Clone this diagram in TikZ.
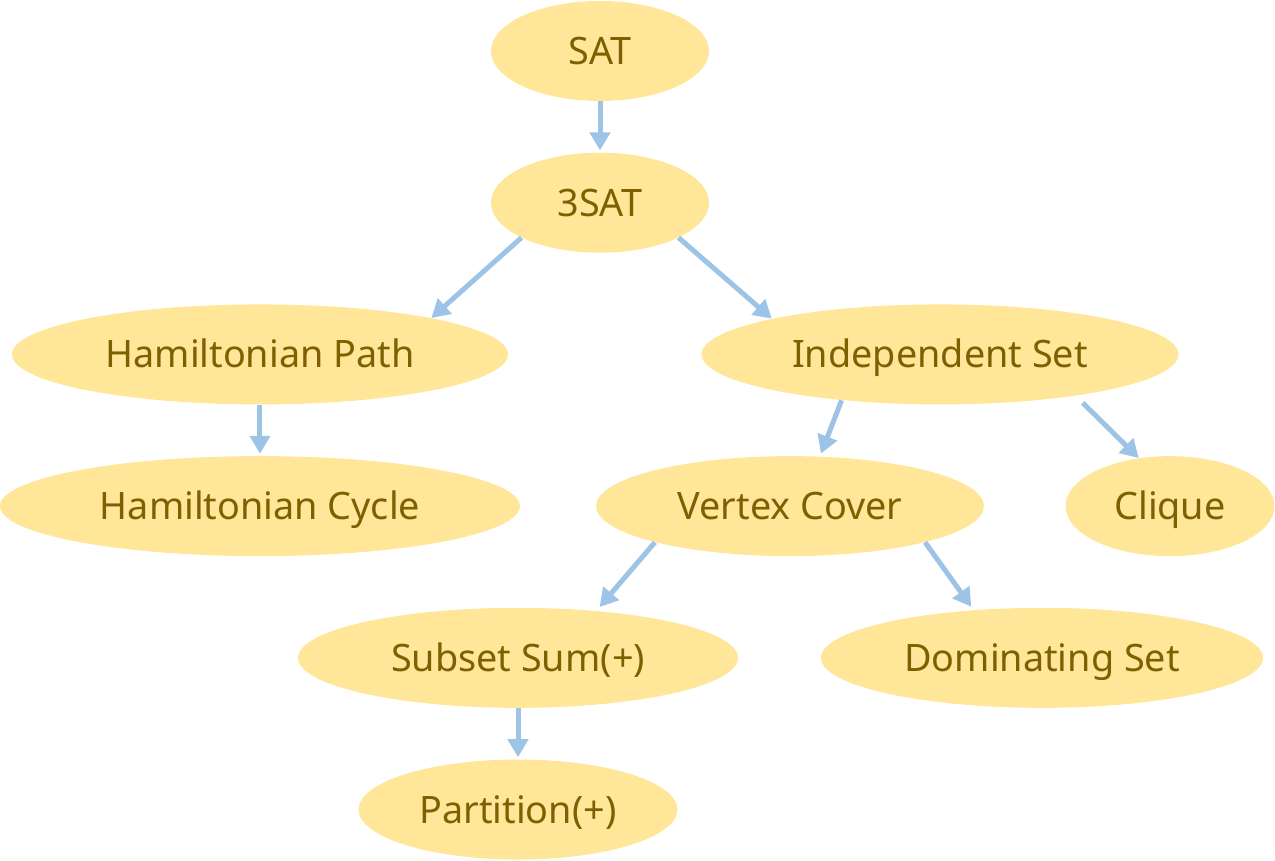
\documentclass[tikz,border=0pt]{standalone}
\usepackage{fontspec}
\setmainfont{Noto Sans}
\usetikzlibrary{positioning, calc, shapes.geometric, arrows.meta}

\definecolor{probfill}{HTML}{FFE699}
\definecolor{probtext}{HTML}{7F6000}
\definecolor{redarrow}{HTML}{9DC3E6}

\begin{document}
\begin{tikzpicture}[
    problem/.style={
        ellipse,
        fill=probfill,
        text=probtext,
        inner sep=0pt,
        minimum height=2cm,
        text height=15.4pt,
        text depth=0pt,
        font=\fontsize{21.5}{26}\selectfont,
    },
    arrow/.style={
        -{Triangle[length=0.36cm, width=0.4cm]},
        line width=0.1cm,
        draw=redarrow,
    },
]

    \node[problem, minimum width=4.36cm] (sat) {SAT};
    \node[problem, minimum width=4.36cm, below=1.02cm of sat] (threesat) {3SAT};
    \node[problem, minimum width=9.92cm, below=1.02cm of threesat, xshift=-6.8cm] (hampath) {Hamiltonian Path};
    \node[problem, minimum width=9.54cm, below=1.02cm of threesat, xshift=6.8cm] (indset) {Independent Set};
    \node[problem, minimum width=10.4cm, below=1.02cm of hampath] (hamcycle) {Hamiltonian Cycle};
    \node[problem, minimum width=7.76cm, below=1.02cm of indset, xshift=-3cm] (vcover) {Vertex Cover};
    \node[problem, minimum width=4.18cm, below=1.02cm of indset, xshift=4.6cm] (clique) {Clique};
    \node[problem, minimum width=8.8cm, below=1.02cm of vcover, xshift=-5.44cm] (subsum) {Subset Sum(+)};
    \node[problem, minimum width=8.84cm, below=1.02cm of vcover, xshift=5.04cm] (domset) {Dominating Set};
    \node[problem, minimum width=6.38cm, below=1.02cm of subsum] (partition) {Partition(+)};

    % Draw arrows
    \draw[arrow, shorten >=0.04cm] (sat.south) -- (threesat.north);
    \draw[arrow] (threesat.204) -- (hampath.12);
    \draw[arrow] (threesat.336) -- (indset.168);
    \draw[arrow, shorten >=0.04cm] (hampath.south) -- (hamcycle.north);
    \draw[arrow, shorten >=0.06cm] (indset.205) -- (vcover.59);
    \draw[arrow, shorten <=0.2cm] (indset.343) -- (clique.123);
    \draw[arrow, shorten >=0.1cm] (vcover.195) -- (subsum.31);
    \draw[arrow, shorten >=0.08cm] (vcover.345) -- (domset.145);
    \draw[arrow, shorten >=0.04cm] (subsum.south) -- (partition.north);

    \useasboundingbox ($(sat.center)+(-12,1.02)$) rectangle ++(25.5,-17.2);

\end{tikzpicture}
\end{document}
